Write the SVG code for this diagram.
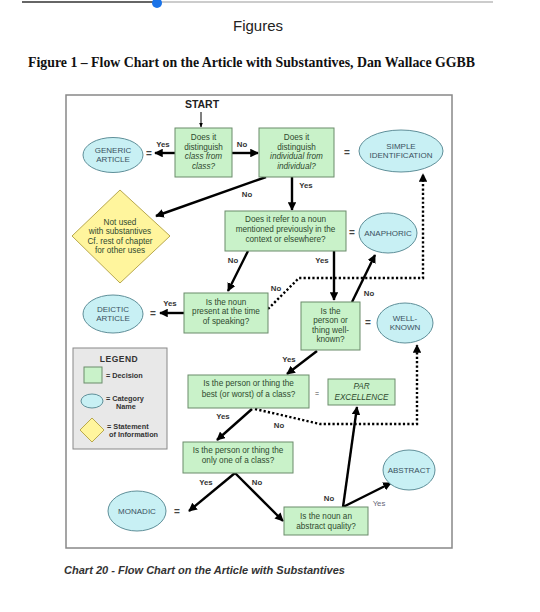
<svg xmlns="http://www.w3.org/2000/svg" width="540" height="612" viewBox="0 0 540 612">
<defs>
<marker id="ah" viewBox="0 0 10 10" refX="9" refY="5" markerWidth="3.6" markerHeight="3.6" orient="auto" markerUnits="strokeWidth">
<path d="M0,0 L10,5 L0,10 z" fill="#000"/>
</marker>
<marker id="ahs" viewBox="0 0 10 10" refX="9" refY="5" markerWidth="5" markerHeight="5" orient="auto" markerUnits="strokeWidth">
<path d="M0,1 L10,5 L0,9 z" fill="#000"/>
</marker>
<style>
.box{fill:#c9f2c9;stroke:#6b8b6b;stroke-width:1}
.ell{fill:#c8f0f4;stroke:#5f8f99;stroke-width:1}
.dia{fill:#fff59d;stroke:#b8a84e;stroke-width:1}
.t{font-family:"Liberation Sans",Arial,sans-serif;font-size:8.2px;fill:#2f4a2f;text-anchor:middle}
.ti{font-style:italic}
.et{font-family:"Liberation Sans",Arial,sans-serif;font-size:8px;fill:#3a5060;text-anchor:middle}
.lb{font-family:"Liberation Sans",Arial,sans-serif;font-size:7.8px;font-weight:bold;fill:#333;text-anchor:middle}
.eq{font-family:"Liberation Sans",Arial,sans-serif;font-size:10px;font-weight:bold;fill:#444;text-anchor:middle}
.ln{stroke:#000;stroke-width:2.4;fill:none;marker-end:url(#ah)}
.dl{stroke:#000;stroke-width:2.4;fill:none;stroke-dasharray:2.2 2.2;marker-end:url(#ah)}
.lg{font-family:"Liberation Sans",Arial,sans-serif;font-size:7.3px;font-weight:bold;fill:#333}
</style>
</defs>
<rect width="540" height="612" fill="#fff"/>
<line x1="22" y1="2" x2="157" y2="2" stroke="#666" stroke-width="2"/>
<line x1="157" y1="2" x2="493" y2="2" stroke="#ccc" stroke-width="2"/>
<circle cx="157" cy="3" r="5" fill="#1a73e8"/>
<text x="258" y="31" font-family="Liberation Sans,Arial,sans-serif" font-size="15" text-anchor="middle" fill="#222">Figures</text>
<text x="28" y="67" font-family="Liberation Serif,Times New Roman,serif" font-size="14" font-weight="bold" fill="#111" textLength="447" lengthAdjust="spacingAndGlyphs">Figure 1 – Flow Chart on the Article with Substantives,  Dan Wallace GGBB</text>
<rect x="66" y="95" width="386" height="453" fill="#fff" stroke="#888" stroke-width="1.5"/>
<text x="64" y="574" font-family="Liberation Sans,Arial,sans-serif" font-size="10.5" font-weight="bold" font-style="italic" fill="#333" textLength="281" lengthAdjust="spacingAndGlyphs">Chart 20 - Flow Chart on the Article with Substantives</text>

<g id="connectors">
<text x="202" y="108" font-family="Liberation Sans,Arial,sans-serif" font-size="10.5" font-weight="bold" fill="#222" text-anchor="middle">START</text>
<line x1="201" y1="112" x2="201" y2="127" stroke="#000" stroke-width="1" marker-end="url(#ahs)"/>
<line class="ln" x1="175" y1="153" x2="155" y2="153"/>
<line class="ln" x1="232" y1="153" x2="258" y2="153"/>
<line class="ln" x1="266" y1="177" x2="156" y2="216"/>
<line class="ln" x1="292" y1="177" x2="292" y2="210"/>
<line class="ln" x1="248" y1="251" x2="228" y2="291"/>
<line class="ln" x1="334" y1="251" x2="334" y2="300"/>
<line class="ln" x1="184" y1="313" x2="160" y2="313"/>
<polyline class="dl" points="268,309 299,278 423,278 423,174"/>
<line class="ln" x1="352" y1="302" x2="375" y2="255"/>
<line class="ln" x1="317" y1="351" x2="287" y2="374"/>
<line class="ln" x1="252" y1="409" x2="217" y2="440"/>
<polyline class="dl" points="255,409 320,424 417,424 417,345"/>
<line class="ln" x1="235" y1="473" x2="189" y2="511"/>
<line class="ln" x1="235" y1="473" x2="283" y2="521"/>
<line class="ln" x1="343" y1="507" x2="357" y2="407"/>
<line class="ln" x1="343" y1="507" x2="391" y2="483"/>
<text class="lb" x="163" y="147">Yes</text>
<text class="lb" x="242" y="147">No</text>
<text class="lb" x="247" y="197">No</text>
<text class="lb" x="306" y="188">Yes</text>
<text class="lb" x="233" y="263">No</text>
<text class="lb" x="322" y="263">Yes</text>
<text class="lb" x="276" y="291">No</text>
<text class="lb" x="170" y="306">Yes</text>
<text class="lb" x="369" y="296">No</text>
<text class="lb" x="289" y="362">Yes</text>
<text class="lb" x="223" y="419">Yes</text>
<text class="lb" x="279" y="428">No</text>
<text class="lb" x="206" y="485">Yes</text>
<text class="lb" x="257" y="485">No</text>
<text class="lb" x="329" y="501">No</text>
<text class="lb" x="379" y="506" style="fill:#667;font-weight:normal">Yes</text>
<text class="eq" x="149" y="157">=</text>
<text class="eq" x="347" y="156">=</text>
<text class="eq" x="352" y="236">=</text>
<text class="eq" x="153" y="317">=</text>
<text class="eq" x="368" y="326">=</text>
<text class="eq" x="317" y="396" style="font-size:7px;font-weight:normal">=</text>
<text class="eq" x="177" y="515">=</text>
</g>

<g id="q1">
<rect class="box" x="175" y="128" width="57" height="49"/>
<text class="t" x="203.5" y="140">Does it</text>
<text class="t" x="203.5" y="149.5">distinguish</text>
<text class="t ti" x="203.5" y="159">class from</text>
<text class="t ti" x="203.5" y="168.5">class?</text>
</g>
<g id="generic">
<ellipse class="ell" cx="113" cy="155" rx="30" ry="17.5"/>
<text class="et" x="113" y="153">GENERIC</text>
<text class="et" x="113" y="162">ARTICLE</text>
</g>
<g id="q2">
<rect class="box" x="259" y="128" width="75" height="49"/>
<text class="t" x="296.5" y="140">Does it</text>
<text class="t" x="296.5" y="149.5">distinguish</text>
<text class="t ti" x="296.5" y="159">individual from</text>
<text class="t ti" x="296.5" y="168.5">individual?</text>
</g>
<g id="simple">
<ellipse class="ell" cx="401" cy="151" rx="42" ry="21"/>
<text class="et" x="401" y="149">SIMPLE</text>
<text class="et" x="401" y="158">IDENTIFICATION</text>
</g>
<g id="notused">
<polygon class="dia" points="120,190 170,236 120,283 72,236"/>
<text class="t" x="120" y="224.5">Not used</text>
<text class="t" x="120" y="234">with substantives</text>
<text class="t" x="120" y="243.5">Cf. rest of chapter</text>
<text class="t" x="120" y="253">for other uses</text>
</g>
<g id="q3">
<rect class="box" x="225" y="211" width="121" height="40"/>
<text class="t" x="285.5" y="221.5">Does it refer to a noun</text>
<text class="t" x="285.5" y="231.5">mentioned previously in the</text>
<text class="t" x="285.5" y="241.5">context or elsewhere?</text>
</g>
<g id="anaphoric">
<ellipse class="ell" cx="388" cy="233" rx="29" ry="20"/>
<text class="et" x="388" y="236">ANAPHORIC</text>
</g>
<g id="q4">
<rect class="box" x="184" y="293" width="84" height="40"/>
<text class="t" x="226" y="305">Is the noun</text>
<text class="t" x="226" y="314">present at the time</text>
<text class="t" x="226" y="323.5">of speaking?</text>
</g>
<g id="deictic">
<ellipse class="ell" cx="113" cy="314" rx="30" ry="19"/>
<text class="et" x="113" y="312">DEICTIC</text>
<text class="et" x="113" y="321">ARTICLE</text>
</g>
<g id="q5">
<rect class="box" x="301" y="302" width="59" height="48"/>
<text class="t" x="330.5" y="313.5">Is the</text>
<text class="t" x="330.5" y="323">person or</text>
<text class="t" x="330.5" y="332.5">thing well-</text>
<text class="t" x="330.5" y="342">known?</text>
</g>
<g id="wellknown">
<ellipse class="ell" cx="405" cy="323" rx="28" ry="20"/>
<text class="et" x="405" y="321">WELL-</text>
<text class="et" x="405" y="330">KNOWN</text>
</g>
<g id="legend">
<rect x="73" y="348" width="94" height="101" fill="#e8e8e8" stroke="#888" stroke-width="1"/>
<text x="119" y="362" font-family="Liberation Sans,Arial,sans-serif" font-size="8.5" font-weight="bold" fill="#333" text-anchor="middle" letter-spacing="0.5">LEGEND</text>
<rect class="box" x="84" y="367" width="18" height="16"/>
<text class="lg" x="106" y="378">= Decision</text>
<ellipse class="ell" cx="92" cy="401" rx="11" ry="7"/>
<text class="lg" x="106" y="401">= Category</text>
<text class="lg" x="116" y="409">Name</text>
<polygon class="dia" points="92,418 104,430 92,442 80,430"/>
<text class="lg" x="107" y="429">= Statement</text>
<text class="lg" x="109" y="437">of Information</text>
</g>
<g id="q6">
<rect class="box" x="188" y="375" width="121" height="33"/>
<text class="t" x="248.5" y="386">Is the person or thing the</text>
<text class="t" x="248.5" y="397">best (or worst)  of a class?</text>
</g>
<g id="parexcellence">
<rect class="box" x="328" y="379" width="67" height="26"/>
<text class="t ti" x="361.5" y="389">PAR</text>
<text class="t ti" x="361.5" y="400">EXCELLENCE</text>
</g>
<g id="q7">
<rect class="box" x="183" y="442" width="110" height="31"/>
<text class="t" x="238" y="453">Is the person or thing the</text>
<text class="t" x="238" y="463">only one of a class?</text>
</g>
<g id="monadic">
<ellipse class="ell" cx="137" cy="511" rx="29" ry="20"/>
<text class="et" x="137" y="514">MONADIC</text>
</g>
<g id="q8">
<rect class="box" x="284" y="507" width="84" height="28"/>
<text class="t" x="326" y="519">Is the noun an</text>
<text class="t" x="326" y="529">abstract quality?</text>
</g>
<g id="abstract">
<ellipse class="ell" cx="409" cy="470" rx="26" ry="20"/>
<text class="et" x="409" y="473">ABSTRACT</text>
</g>
</svg>
